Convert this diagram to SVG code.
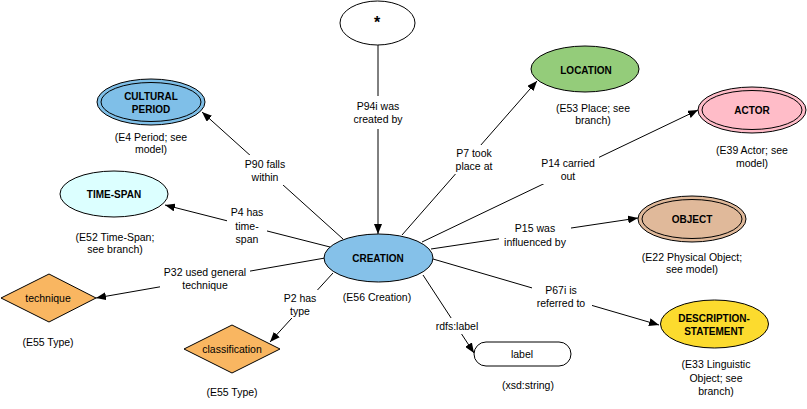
<svg xmlns="http://www.w3.org/2000/svg" width="807" height="409" viewBox="0 0 807 409">
<defs>
<marker id="arr" viewBox="0 0 10 8" refX="10" refY="4" markerWidth="10" markerHeight="8" markerUnits="userSpaceOnUse" orient="auto">
<path d="M0,0 L10,4 L0,8 z" fill="#000"/>
</marker>
<style>
.e{fill:none;stroke:#000;stroke-width:1;marker-end:url(#arr)}
.bg{fill:#fff}
.t{font-family:"Liberation Sans",Arial,sans-serif;font-size:10.5px;fill:#000;text-anchor:middle}
.b{font-family:"Liberation Sans",Arial,sans-serif;font-size:10px;font-weight:bold;fill:#000;text-anchor:middle}
.s{stroke:#000;stroke-width:1}
</style>
</defs>
<rect width="807" height="409" fill="#fff"/>
<g id="connectors">
<line class="e" x1="378" y1="45" x2="378" y2="234"/>
<line class="e" x1="343" y1="239" x2="202" y2="112"/>
<line class="e" x1="330" y1="247" x2="165" y2="205"/>
<line class="e" x1="325" y1="258" x2="96" y2="298"/>
<line class="e" x1="333" y1="273" x2="270" y2="342"/>
<line class="e" x1="423" y1="275" x2="474" y2="353"/>
<line class="e" x1="433" y1="259" x2="659" y2="325"/>
<line class="e" x1="431" y1="249" x2="638" y2="218"/>
<line class="e" x1="422" y1="242" x2="698" y2="110"/>
<line class="e" x1="402" y1="235" x2="537" y2="81"/>
<rect class="bg" x="350" y="96" width="56" height="33"/>
<rect class="bg" x="240" y="155" width="50" height="30"/>
<rect class="bg" x="227" y="203" width="40" height="44"/>
<rect class="bg" x="160" y="264" width="90" height="29"/>
<rect class="bg" x="282" y="290" width="36" height="28"/>
<rect class="bg" x="432" y="318" width="50" height="16"/>
<rect class="bg" x="532" y="282" width="60" height="29"/>
<rect class="bg" x="499" y="220" width="72" height="30"/>
<rect class="bg" x="537" y="155" width="62" height="29"/>
<rect class="bg" x="451" y="145" width="46" height="29"/>
<text class="t" x="378" y="110">P94i was</text>
<text class="t" x="378" y="123">created by</text>
<text class="t" x="265" y="168">P90 falls</text>
<text class="t" x="265" y="181">within</text>
<text class="t" x="247" y="216">P4 has</text>
<text class="t" x="247" y="230">time-</text>
<text class="t" x="247" y="243">span</text>
<text class="t" x="205" y="276">P32 used general</text>
<text class="t" x="205" y="289">technique</text>
<text class="t" x="300" y="302">P2 has</text>
<text class="t" x="300" y="315">type</text>
<text class="t" x="457" y="330">rdfs:label</text>
<text class="t" x="561" y="294">P67i is</text>
<text class="t" x="561" y="307">referred to</text>
<text class="t" x="535" y="232">P15 was</text>
<text class="t" x="535" y="246">influenced by</text>
<text class="t" x="568" y="167">P14 carried</text>
<text class="t" x="568" y="180">out</text>
<text class="t" x="474" y="157">P7 took</text>
<text class="t" x="474" y="170">place at</text>
</g>
<g id="star">
<ellipse class="s" cx="377.5" cy="23" rx="37.5" ry="22" fill="#fff"/>
<text class="b" x="377" y="28" style="font-size:16px">*</text>
</g>
<g id="creation">
<ellipse class="s" cx="378.5" cy="258" rx="54.5" ry="24" fill="#85c1e9"/>
<text class="b" x="378" y="262">CREATION</text>
<text class="t" x="377" y="301">(E56 Creation)</text>
</g>
<g id="cultural-period">
<ellipse class="s" cx="151" cy="102" rx="54" ry="23" fill="#7fbfe8"/>
<ellipse class="s" cx="151" cy="102" rx="50" ry="19.5" fill="none"/>
<text class="b" x="151" y="100">CULTURAL</text>
<text class="b" x="151" y="113">PERIOD</text>
<text class="t" x="151" y="141">(E4 Period; see</text>
<text class="t" x="151" y="153">model)</text>
</g>
<g id="time-span">
<ellipse class="s" cx="114" cy="194" rx="54" ry="23" fill="#dcffff"/>
<text class="b" x="114" y="198">TIME-SPAN</text>
<text class="t" x="115" y="241">(E52 Time-Span;</text>
<text class="t" x="115" y="253">see branch)</text>
</g>
<g id="technique">
<polygon class="s" points="1,298 49,274 96,298 49,322" fill="#f9b661"/>
<text class="t" x="48" y="302">technique</text>
<text class="t" x="48" y="346">(E55 Type)</text>
</g>
<g id="classification">
<polygon class="s" points="184,349 232,325 280,349 232,373" fill="#f9b661"/>
<text class="t" x="232" y="353">classification</text>
<text class="t" x="232" y="396">(E55 Type)</text>
</g>
<g id="label">
<rect class="s" x="474" y="342" width="97" height="24" rx="12" ry="12" fill="#fff"/>
<text class="t" x="522" y="358">label</text>
<text class="t" x="528" y="389">(xsd:string)</text>
</g>
<g id="location">
<ellipse class="s" cx="585" cy="69" rx="54" ry="23" fill="#94cc7a"/>
<text class="b" x="586" y="74">LOCATION</text>
<text class="t" x="593" y="112">(E53 Place; see</text>
<text class="t" x="593" y="124">branch)</text>
</g>
<g id="actor">
<ellipse class="s" cx="752" cy="110" rx="54" ry="23" fill="#ffbcc8"/>
<ellipse class="s" cx="752" cy="110" rx="50" ry="19.5" fill="none"/>
<text class="b" x="752" y="114">ACTOR</text>
<text class="t" x="752" y="154">(E39 Actor; see</text>
<text class="t" x="752" y="167">model)</text>
</g>
<g id="object">
<ellipse class="s" cx="692" cy="219" rx="54" ry="23" fill="#e0b99a"/>
<ellipse class="s" cx="692" cy="219" rx="50" ry="19.5" fill="none"/>
<text class="b" x="692" y="223">OBJECT</text>
<text class="t" x="692" y="261">(E22 Physical Object;</text>
<text class="t" x="692" y="273">see model)</text>
</g>
<g id="description-statement">
<ellipse class="s" cx="714.5" cy="324" rx="54" ry="24" fill="#fcdb2e"/>
<text class="b" x="714" y="322">DESCRIPTION-</text>
<text class="b" x="714" y="335">STATEMENT</text>
<text class="t" x="716" y="368">(E33 Linguistic</text>
<text class="t" x="716" y="382">Object; see</text>
<text class="t" x="716" y="395">branch)</text>
</g>
</svg>
